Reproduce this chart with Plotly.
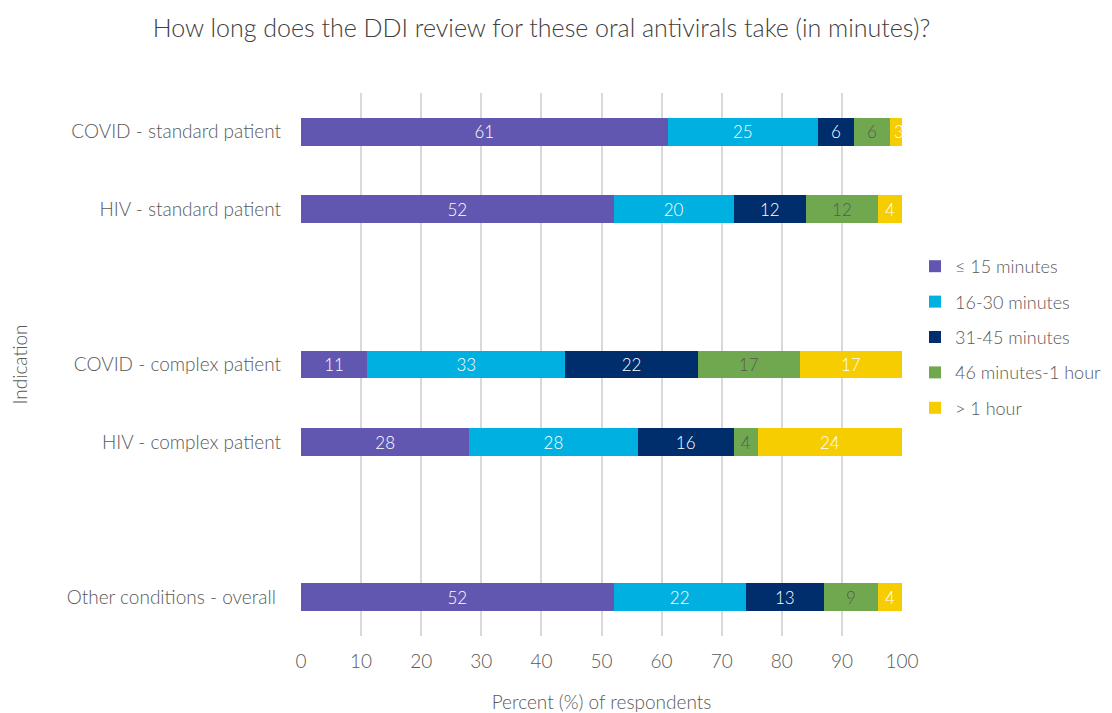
import plotly.graph_objects as go

categories = ["COVID - standard patient", "HIV - standard patient", " ",
              "COVID - complex patient", "HIV - complex patient", "  ",
              "Other conditions - overall "]
series_names = ["≤ 15 minutes", "16-30 minutes", "31-45 minutes", "46 minutes-1 hour", "> 1 hour"]
le15 = [61, 52, None, 11, 28, None, 52]
m16_30 = [25, 20, None, 33, 28, None, 22]
m31_45 = [6, 12, None, 22, 16, None, 13]
m46_60 = [6, 12, None, 17, 4, None, 9]
gt60 = [3, 4, None, 17, 24, None, 4]
x_ticks = list(range(0, 101, 10))

colors = ["#6257b0", "#00b0e0", "#002d6b", "#70a84f", "#f5cd00"]
text_colors = ["white", "white", "white", "#595959", "white"]
FONT = "Lato, 'Open Sans', sans-serif"

W, H = 1104, 705  # page body has an 8px margin

fig = go.Figure()
for name, vals, col, tcol in zip(series_names, [le15, m16_30, m31_45, m46_60, gt60], colors, text_colors):
    fig.add_trace(go.Bar(
        y=categories, x=vals, name=name, orientation="h",
        marker=dict(color=col, line=dict(width=0)),
        text=["" if v is None else str(v) for v in vals],
        textposition="inside", insidetextanchor="middle", textangle=0,
        textfont=dict(color=tcol, size=17, family=FONT, weight=300),
        legendgroup=name, hoverinfo="x+name",
    ))

fig.update_layout(
    barmode="stack", bargap=0.64,
    width=W, height=H,
    margin=dict(l=293, r=210, t=85, b=77, autoexpand=False),
    plot_bgcolor="white", paper_bgcolor="white",
    font=dict(family=FONT, color="#595959", size=18, weight=300),
    uniformtext=dict(mode="show", minsize=17),
    title=dict(text="How long does the DDI review for these oral antivirals take (in minutes)?",
               x=533.5 / W, xref="container", xanchor="center", y=1 - 20 / H, yanchor="middle",
               font=dict(size=25, color="#404040", family=FONT, weight=300)),
    legend=dict(xref="container", yref="container", x=907 / W, xanchor="left", y=1 - 329 / H, yanchor="middle",
                font=dict(size=18, color="#595959", family=FONT, weight=300),
                tracegroupgap=9, traceorder="grouped",
                bgcolor="rgba(0,0,0,0)"),
    xaxis=dict(range=[0, 100], tickvals=x_ticks, showgrid=True, gridcolor="#d9d9d9", gridwidth=1.5,
               zeroline=False, showline=False, ticks="", ticklabelstandoff=12, automargin=False,
               tickfont=dict(size=19, color="#595959"),
               title=dict(text="Percent (%) of respondents", font=dict(size=19, color="#595959"), standoff=25)),
    yaxis=dict(type="category", categoryorder="array", categoryarray=categories, autorange="reversed",
               showgrid=False, zeroline=False, showline=False, ticks="", ticklabelstandoff=19,
               automargin=False,
               tickfont=dict(size=19, color="#595959"),
               title=dict(text="Indication", font=dict(size=19, color="#595959"), standoff=57)),
)
fig.write_html("out.html")
